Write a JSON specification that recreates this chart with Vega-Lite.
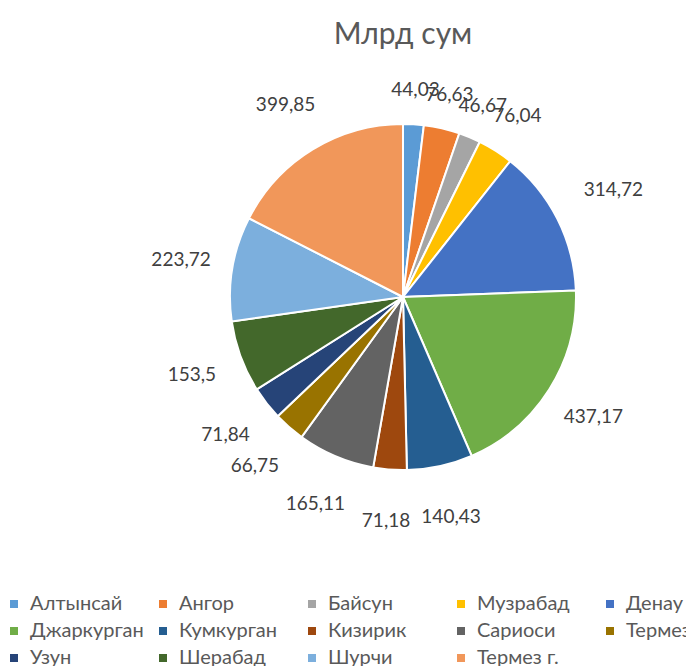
{
  "$schema": "https://vega.github.io/schema/vega-lite/v6.json",
  "autosize": "none",
  "width": 798,
  "height": 474,
  "padding": {"left": 4, "top": 60, "right": 0, "bottom": 132},
  "background": "white",
  "title": {"text": "Млрд сум", "font": "Lato", "fontSize": 30, "fontWeight": "normal", "color": "#595959", "anchor": "middle", "offset": 10},
  "data": {"values": [
    {"i": 1, "name": "Алтынсай", "value": 44.03, "label": "44,03"},
    {"i": 2, "name": "Ангор", "value": 76.63, "label": "76,63"},
    {"i": 3, "name": "Байсун", "value": 46.67, "label": "46,67"},
    {"i": 4, "name": "Музрабад", "value": 76.04, "label": "76,04"},
    {"i": 5, "name": "Денау", "value": 314.72, "label": "314,72"},
    {"i": 6, "name": "Джаркурган", "value": 437.17, "label": "437,17"},
    {"i": 7, "name": "Кумкурган", "value": 140.43, "label": "140,43"},
    {"i": 8, "name": "Кизирик", "value": 71.18, "label": "71,18"},
    {"i": 9, "name": "Сариоси", "value": 165.11, "label": "165,11"},
    {"i": 10, "name": "Термез", "value": 66.75, "label": "66,75"},
    {"i": 11, "name": "Узун", "value": 71.84, "label": "71,84"},
    {"i": 12, "name": "Шерабад", "value": 153.5, "label": "153,5"},
    {"i": 13, "name": "Шурчи", "value": 223.72, "label": "223,72"},
    {"i": 14, "name": "Термез г.", "value": 399.85, "label": "399,85"}
  ]},
  "encoding": {
    "theta": {"field": "value", "type": "quantitative", "stack": true},
    "order": {"field": "i", "type": "quantitative"},
    "color": {
      "field": "name", "type": "nominal",
      "scale": {
        "domain": ["Алтынсай","Ангор","Байсун","Музрабад","Денау","Джаркурган","Кумкурган","Кизирик","Сариоси","Термез","Узун","Шерабад","Шурчи","Термез г."],
        "range": ["#5B9BD5","#ED7D31","#A5A5A5","#FFC000","#4472C4","#70AD47","#255E91","#9E480E","#636363","#997300","#264478","#43682B","#7CAFDD","#F1975A"]
      },
      "legend": {
        "title": null, "orient": "bottom", "direction": "horizontal", "columns": 5, "offset": 60,
        "gridAlign": "all", "columnPadding": 9, "rowPadding": 7,
        "symbolType": "square", "symbolSize": 64, "symbolStrokeWidth": 0,
        "labelFont": "Lato", "labelFontSize": 20, "labelColor": "#595959", "labelOffset": 6
      }
    }
  },
  "layer": [
    {"mark": {"type": "arc", "outerRadius": 173, "stroke": "white", "strokeWidth": 2}},
    {"mark": {"type": "text", "radius": {"expr": "datum.i <= 3 ? 207 : datum.i == 4 ? 214 : datum.i == 5 ? 236 : 225"}, "font": "Lato", "fontSize": 19, "fill": "#404040"},
     "encoding": {"text": {"field": "label", "type": "nominal"}, "color": {"value": "#404040"}}}
  ],
  "config": {"view": {"stroke": null}}
}
